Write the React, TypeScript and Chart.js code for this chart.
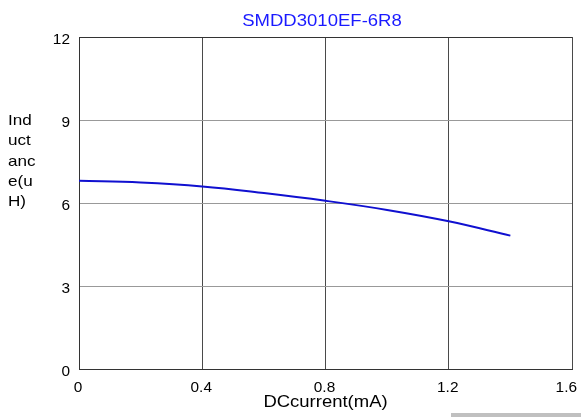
import React, { useEffect, useRef } from "react";
import { Chart, registerables } from "chart.js";

Chart.register(...registerables);

const chartTitle = "SMDD3010EF-6R8";
const xAxisTitle = "DCcurrent(mA)";
const yAxisTitleLines = ["Ind", "uct", "anc", "e(u", "H)"];
const xTicks = [0, 0.4, 0.8, 1.2, 1.6];
const yTicks = [0, 3, 6, 9, 12];
const currentValues = [0, 0.2, 0.4, 0.6, 0.8, 1.0, 1.2, 1.4];
const inductanceValues = [6.8, 6.74, 6.6, 6.36, 6.08, 5.75, 5.34, 4.82];

const FONT = "'Liberation Sans', Arial, sans-serif";

function stretchedText(
  ctx: CanvasRenderingContext2D,
  text: string,
  x: number,
  y: number,
  size: number,
  sx: number,
  align: CanvasTextAlign
) {
  ctx.save();
  ctx.font = `${size}px ${FONT}`;
  ctx.textAlign = align;
  ctx.textBaseline = "alphabetic";
  ctx.translate(x, y);
  ctx.scale(sx, 1);
  ctx.fillText(text, 0, 0);
  ctx.restore();
}

export default function App() {
  const ref = useRef<HTMLCanvasElement | null>(null);

  useEffect(() => {
    if (!ref.current) return;
    const decor = {
      id: "decor",
      afterDraw(chart: any) {
        const ctx = chart.ctx as CanvasRenderingContext2D;
        const a = chart.chartArea;
        const cx = (a.left + a.right) / 2;
        const xs = chart.scales.x;
        const ys = chart.scales.y;
        ctx.save();
        ctx.fillStyle = "#1a1aff";
        stretchedText(ctx, chartTitle, cx - 3.5, 26, 17, 1.09, "center");
        ctx.fillStyle = "#000";
        stretchedText(ctx, xAxisTitle, cx, 407, 16.5, 1.12, "center");
        yAxisTitleLines.forEach((t, i) => {
          stretchedText(ctx, t, 8, 125 + i * 20.3, 15, 1.14, "left");
        });
        // tick labels
        const tickSize = 14;
        const tickSx = 1.1;
        ctx.font = `${tickSize}px ${FONT}`;
        xTicks.forEach((v) => {
          const label = String(v);
          const w = ctx.measureText(label).width * tickSx;
          let px = xs.getPixelForValue(v) - 1;
          if (px + w / 2 > 577) px = 577 - w / 2;
          stretchedText(ctx, label, px, 392, tickSize, tickSx, "center");
        });
        yTicks.forEach((v) => {
          const py = ys.getPixelForValue(v);
          stretchedText(ctx, String(v), 70, py + 7, tickSize, tickSx, "right");
        });
        ctx.fillStyle = "#c0c0c0";
        ctx.fillRect(451, 413, 130, 4);
        ctx.restore();
      },
    };

    const chart = new Chart(ref.current, {
      type: "line",
      data: {
        datasets: [
          {
            data: currentValues.map((x, i) => ({ x, y: inductanceValues[i] })),
            borderColor: "#1010d0",
            borderWidth: 2,
            pointRadius: 0,
            tension: 0.4,
            fill: false,
          },
        ],
      },
      options: {
        animation: false,
        responsive: false,
        maintainAspectRatio: false,
        layout: { padding: { left: 0, right: 9, top: 37, bottom: 0 } },
        plugins: { legend: { display: false }, title: { display: false }, tooltip: { enabled: false } },
        scales: {
          x: {
            type: "linear",
            min: 0,
            max: 1.6,
            afterBuildTicks: (s: any) => {
              s.ticks = xTicks.map((v) => ({ value: v }));
            },
            afterFit: (s: any) => {
              s.height = 48;
              s.paddingRight = 0;
              s.paddingLeft = 0;
            },
            ticks: { display: false },
            grid: {
              color: "#4a4a4a",
              lineWidth: 1,
              drawTicks: false,
            },
            border: { display: true, color: "#333", width: 1 },
          },
          y: {
            type: "linear",
            min: 0,
            max: 12,
            afterBuildTicks: (s: any) => {
              s.ticks = yTicks.map((v) => ({ value: v }));
            },
            afterFit: (s: any) => {
              s.width = 79;
              s.paddingTop = 0;
              s.paddingBottom = 0;
            },
            ticks: { display: false },
            grid: {
              color: (c: any) => (c.tick && c.tick.value === 12 ? "#333" : "#999"),
              lineWidth: 1,
              drawTicks: false,
            },
            border: { display: true, color: "#333", width: 1 },
          },
        },
      },
      plugins: [decor],
    });
    return () => chart.destroy();
  }, []);

  return (
    <div style={{ position: "fixed", left: 0, top: 0, width: 581, height: 417, background: "#fff" }}>
      <canvas ref={ref} width={581} height={417} style={{ display: "block" }} />
    </div>
  );
}
